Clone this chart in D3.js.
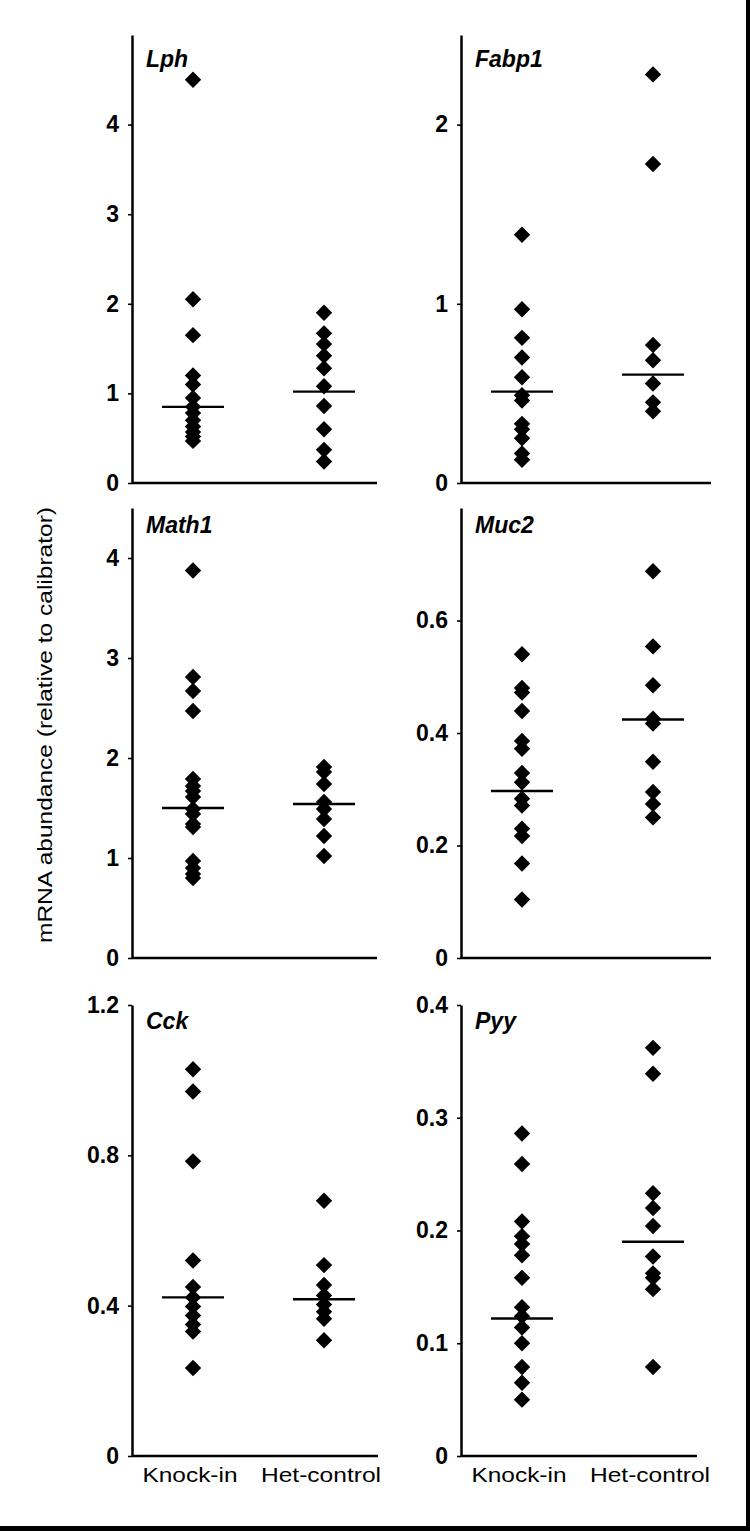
<!DOCTYPE html>
<html>
<head>
<meta charset="utf-8">
<script src="https://cdn.jsdelivr.net/npm/d3@7"></script>
<style>
  html, body { margin: 0; padding: 0; background: #fff; }
  svg { display: block; }
  text { font-family: "Liberation Sans", Arial, sans-serif; fill: #000; }
</style>
</head>
<body>
<svg id="chart" width="750" height="1531"></svg>
<script>
// ---------------- DATA ----------------
const categories = ["Knock-in", "Het-control"];
const genes = ["Lph", "Fabp1", "Math1", "Muc2", "Cck", "Pyy"];
const yTitle = "mRNA abundance (relative to calibrator)";

const lphKnockIn   = [4.5, 2.05, 1.65, 1.2, 1.1, 0.95, 0.85, 0.78, 0.7, 0.63, 0.57, 0.52, 0.47];
const lphHet       = [1.9, 1.67, 1.55, 1.42, 1.28, 1.08, 0.86, 0.6, 0.37, 0.24];
const lphMedians   = [0.85, 1.02];
const lphTicks     = [0, 1, 2, 3, 4];
const lphTickLabels = ["0", "1", "2", "3", "4"];
const lphMax = 5;

const fabp1KnockIn = [1.385, 0.97, 0.81, 0.7, 0.59, 0.49, 0.46, 0.33, 0.3, 0.25, 0.165, 0.13];
const fabp1Het     = [2.28, 1.78, 0.77, 0.685, 0.555, 0.45, 0.4];
const fabp1Medians = [0.51, 0.605];
const fabp1Ticks   = [0, 1, 2];
const fabp1TickLabels = ["0", "1", "2"];
const fabp1Max = 2.5;

const math1KnockIn = [3.875, 2.81, 2.67, 2.47, 1.79, 1.72, 1.67, 1.61, 1.49, 1.44, 1.34, 1.31, 0.97, 0.9, 0.84, 0.8];
const math1Het     = [1.91, 1.86, 1.74, 1.56, 1.49, 1.39, 1.22, 1.02];
const math1Medians = [1.5, 1.54];
const math1Ticks   = [0, 1, 2, 3, 4];
const math1TickLabels = ["0", "1", "2", "3", "4"];
const math1Max = 4.5;

const muc2KnockIn  = [0.54, 0.48, 0.472, 0.439, 0.386, 0.372, 0.329, 0.3125, 0.283, 0.271, 0.23, 0.217, 0.168, 0.104];
const muc2Het      = [0.6875, 0.554, 0.485, 0.4255, 0.417, 0.349, 0.295, 0.274, 0.25];
const muc2Medians  = [0.297, 0.424];
const muc2Ticks    = [0, 0.2, 0.4, 0.6];
const muc2TickLabels = ["0", "0.2", "0.4", "0.6"];
const muc2Max = 0.8;

const cckKnockIn   = [1.029, 0.97, 0.784, 0.52, 0.45, 0.422, 0.398, 0.374, 0.35, 0.331, 0.234];
const cckHet       = [0.679, 0.508, 0.455, 0.427, 0.403, 0.384, 0.365, 0.308];
const cckMedians   = [0.422, 0.417];
const cckTicks     = [0, 0.4, 0.8, 1.2];
const cckTickLabels = ["0", "0.4", "0.8", "1.2"];
const cckMax = 1.2;

const pyyKnockIn   = [0.286, 0.259, 0.208, 0.195, 0.188, 0.178, 0.158, 0.132, 0.124, 0.114, 0.1, 0.079, 0.065, 0.05];
const pyyHet       = [0.362, 0.339, 0.233, 0.22, 0.204, 0.177, 0.162, 0.158, 0.148, 0.079];
const pyyMedians   = [0.122, 0.19];
const pyyTicks     = [0, 0.1, 0.2, 0.3, 0.4];
const pyyTickLabels = ["0", "0.1", "0.2", "0.3", "0.4"];
const pyyMax = 0.4;

// ---------------- LAYOUT ----------------
const panels = [
  { gene: genes[0], series: [lphKnockIn, lphHet],     med: lphMedians,   ticks: lphTicks,   labels: lphTickLabels,   max: lphMax,   col: 0, row: 0 },
  { gene: genes[1], series: [fabp1KnockIn, fabp1Het], med: fabp1Medians, ticks: fabp1Ticks, labels: fabp1TickLabels, max: fabp1Max, col: 1, row: 0 },
  { gene: genes[2], series: [math1KnockIn, math1Het], med: math1Medians, ticks: math1Ticks, labels: math1TickLabels, max: math1Max, col: 0, row: 1 },
  { gene: genes[3], series: [muc2KnockIn, muc2Het],   med: muc2Medians,  ticks: muc2Ticks,  labels: muc2TickLabels,  max: muc2Max,  col: 1, row: 1 },
  { gene: genes[4], series: [cckKnockIn, cckHet],     med: cckMedians,   ticks: cckTicks,   labels: cckTickLabels,   max: cckMax,   col: 0, row: 2 },
  { gene: genes[5], series: [pyyKnockIn, pyyHet],     med: pyyMedians,   ticks: pyyTicks,   labels: pyyTickLabels,   max: pyyMax,   col: 1, row: 2 }
];

const colAxisX = [132, 461];
const rowGeom = [
  { top: 35,  zero: 483,  labelY: 67 },
  { top: 508, zero: 958,  labelY: 533 },
  { top: 1005, zero: 1456, labelY: 1029 }
];
const xEnds = [[377, 711], [377, 711], [378, 697]];

const svg = d3.select("#chart");
svg.append("rect").attr("width", 750).attr("height", 1531).attr("fill", "#fff");

const diamond = {
  draw(ctx, size) {
    const r = Math.sqrt(size / 2);
    ctx.moveTo(0, -r); ctx.lineTo(r, 0); ctx.lineTo(0, r); ctx.lineTo(-r, 0); ctx.closePath();
  }
};
const sym = d3.symbol().type(diamond).size(2 * 8.2 * 8.2);

panels.forEach(p => {
  const ax = colAxisX[p.col];
  const g = rowGeom[p.row];
  const xEnd = xEnds[p.row][p.col];
  const y = d3.scaleLinear().domain([0, p.max]).range([g.zero, g.top]);
  const x = d3.scalePoint().domain(categories).range([ax + 61, ax + 192]);

  const pg = svg.append("g");

  // y axis
  const yAxis = d3.axisLeft(y)
    .tickValues(p.ticks)
    .tickFormat((d, i) => p.labels[i])
    .tickSize(4).tickSizeOuter(0).tickPadding(9);
  const ya = pg.append("g").attr("transform", `translate(${ax},0)`).call(yAxis);
  ya.select(".domain").attr("stroke", "#000").attr("stroke-width", 2.5);
  ya.selectAll(".tick line").attr("stroke", "#000").attr("stroke-width", 1.6);
  ya.selectAll(".tick text")
    .attr("font-size", 23).attr("font-weight", "bold")
    .attr("font-family", "Liberation Sans, Arial, sans-serif").attr("fill", "#000");

  // x axis line
  pg.append("line")
    .attr("x1", ax).attr("x2", xEnd)
    .attr("y1", y(0)).attr("y2", y(0))
    .attr("stroke", "#000").attr("stroke-width", 2.5);

  // points
  p.series.forEach((vals, ci) => {
    pg.selectAll(null).data(vals).enter().append("path")
      .attr("d", sym)
      .attr("transform", d => `translate(${x(categories[ci])},${y(d)})`)
      .attr("fill", "#000");
  });

  // median lines
  pg.selectAll(null).data(p.med).enter().append("line")
    .attr("x1", (d, i) => x(categories[i]) - 31)
    .attr("x2", (d, i) => x(categories[i]) + 31)
    .attr("y1", d => y(d)).attr("y2", d => y(d))
    .attr("stroke", "#000").attr("stroke-width", 2.4);

  // gene label
  pg.append("text")
    .attr("x", ax + 14).attr("y", g.labelY)
    .attr("font-size", 23).attr("font-style", "italic").attr("font-weight", "bold")
    .text(p.gene);

  // category labels on bottom row
  if (p.row === 2) {
    pg.selectAll(null).data(categories).enter().append("text")
      .attr("x", d => x(d) - 3)
      .attr("y", 1482)
      .attr("text-anchor", "middle")
      .attr("font-size", 21)
      .attr("textLength", d => d === "Knock-in" ? 95 : 120)
      .attr("lengthAdjust", "spacingAndGlyphs")
      .text(d => d);
  }
});

// y-axis title
svg.append("text")
  .attr("transform", "translate(52,725) rotate(-90)")
  .attr("text-anchor", "middle")
  .attr("font-size", 21)
  .attr("textLength", 436)
  .attr("lengthAdjust", "spacingAndGlyphs")
  .text(yTitle);

// frame (right and bottom black border)
svg.append("rect").attr("x", 746).attr("y", 0).attr("width", 4).attr("height", 1531).attr("fill", "#000");
svg.append("rect").attr("x", 0).attr("y", 1526).attr("width", 750).attr("height", 5).attr("fill", "#000");
</script>
</body>
</html>
